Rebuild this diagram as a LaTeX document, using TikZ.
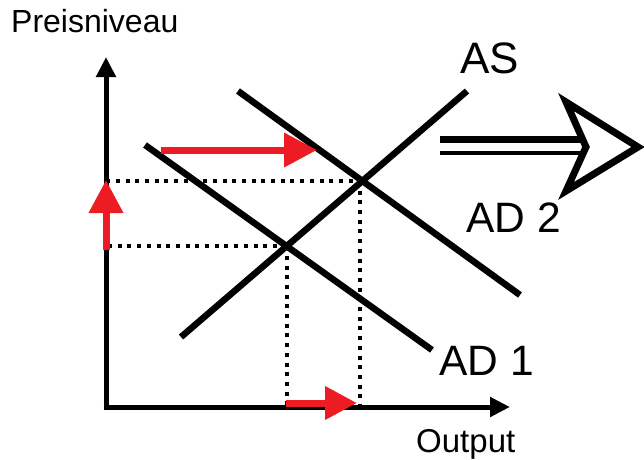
\documentclass[tikz,border=0pt]{standalone}
\usepackage{fontspec}
\setmainfont{Liberation Sans}
\usetikzlibrary{arrows.meta,intersections}
\definecolor{ecored}{HTML}{ED1C24}
\tikzset{
  curve/.style={line width=6.5pt},
  axis/.style={line width=5pt,-{Triangle[length=20pt,width=19pt]}},
  guide/.style={line width=4pt,dash pattern=on 4pt off 5.7pt},
  shift arrow/.style={line width=7pt,ecored,-{Triangle[length=33pt,width=33pt]}},
  lbl/.style={anchor=base west,inner sep=0pt,font=\fontsize{42.5}{42.5}\selectfont},
  axlbl/.style={anchor=base west,inner sep=0pt,font=\fontsize{32}{32}\selectfont},
}
\begin{document}
\begin{tikzpicture}[x=1pt,y=-1pt]
\useasboundingbox (0,0) rectangle (644,459);
% axes
\coordinate (O) at (106,407);
\coordinate (Ytop) at (106,57);
\coordinate (Xend) at (510,407);
\draw[axis] (106,409.5) -- (Ytop);
\draw[axis] (103.5,407) -- (Xend);
% curves
\coordinate (AS1) at (181,337);
\coordinate (AS2) at (467,91);
\coordinate (D1a) at (145,145);
\coordinate (D1b) at (432,350);
\coordinate (D2a) at (238,91);
\coordinate (D2b) at (520,295);
\draw[curve,name path=as] (AS1) -- (AS2);
\draw[curve,name path=ad1] (D1a) -- (D1b);
\draw[curve,name path=ad2] (D2a) -- (D2b);
\path[name intersections={of=as and ad1,by=E1}];
\path[name intersections={of=as and ad2,by=E2}];
% guides
\draw[guide] (E1) -- (E1 -| O);
\draw[guide] (E1) -- (E1 |- O);
\draw[guide] (E2) -- (E2 -| O);
\draw[guide] ([xshift=-2pt]E2) -- ([xshift=-2pt]E2 |- O);
% red shift arrows
\coordinate (r1s) at (106,250);
\coordinate (r1e) at (106,180);
\draw[shift arrow] (r1s) -- (r1e);
\coordinate (r2s) at (161,150);
\coordinate (r2e) at (317,150);
\draw[shift arrow] (r2s) -- (r2e);
\coordinate (r3s) at (286,403);
\coordinate (r3e) at (357,403);
\draw[shift arrow,-{Triangle[length=32pt,width=32pt]}] (r3s) -- (r3e);
% hollow arrow
\coordinate (h1) at (440,139.5);
\coordinate (h2) at (584,139.5);
\coordinate (h3) at (440,153);
\coordinate (h4) at (584,153);
\draw[line width=7pt] (h1) -- (h2);
\draw[line width=4pt] (h3) -- (h4);
\draw[line width=7pt,fill=white,miter limit=10] (566,102) -- (638,147) -- (566,191) -- (586,147) -- cycle;
% labels
\node[axlbl] (py) at (11,32) {Preisniveau};
\node[axlbl,font=\fontsize{33}{33}\selectfont] (px) at (416,452) {Output};
\node[lbl,font=\fontsize{44}{44}\selectfont] (las) at (460,73) {AS};
\node[lbl] (lad2) at (466,232) {AD 2};
\node[lbl] (lad1) at (439,375) {AD 1};
\end{tikzpicture}
\end{document}
